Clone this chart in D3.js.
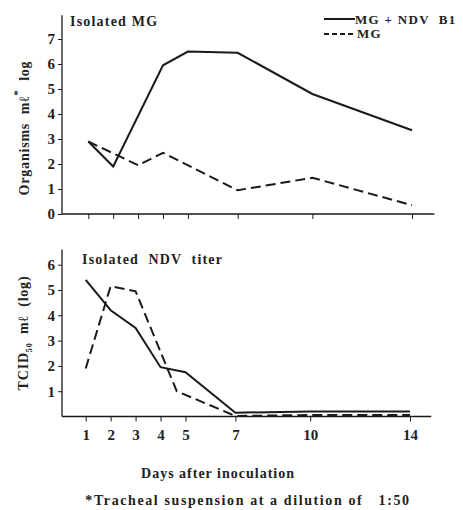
<!DOCTYPE html>
<html><head><meta charset="utf-8">
<script src="https://cdn.jsdelivr.net/npm/d3@7"></script>
<style>
body{margin:0;background:#fff;}
text{font-family:"Liberation Serif","DejaVu Serif",serif;font-weight:bold;fill:#222;}
</style></head><body>
<svg id="c" width="463" height="510"></svg>
<script>
const days = [1,2,3,4,5,7,10,14];
const topTicks = [0,1,2,3,4,5,6,7];
const botTicks = [1,2,3,4,5,6];
// Top panel: Isolated MG
const mgNdvDays = [1,2,4,5,7,10,14];
const mgNdvVals = [2.9,1.9,5.95,6.5,6.45,4.8,3.35];
const mgDays = [1,3,4,7,10,14];
const mgVals = [2.9,1.95,2.45,0.95,1.45,0.35];
// Bottom panel: Isolated NDV titer
const ndvSolidDays = [1,2,3,4,5,7,10,14];
const ndvSolidVals = [5.4,4.2,3.5,1.95,1.75,0.15,0.2,0.2];
const ndvDashDays = [1,2,3,4.65,7,10,14];
const ndvDashVals = [1.9,5.15,4.95,1.0,0.02,0.06,0.06];

const svg = d3.select("#c");
const ink = "#1a1a1a";

function panel(xr, yDom, yr, yTicks, showXLabels, axTopVal, xEnd){
  const x = d3.scaleLinear().domain([1,14]).range(xr);
  const y = d3.scaleLinear().domain(yDom).range(yr);
  const g = svg.append("g");
  const ya = g.append("g").attr("transform","translate(62,0)")
    .call(d3.axisLeft(y).tickValues(yTicks).tickSize(4).tickPadding(3).tickFormat(d3.format("d")));
  ya.select(".domain").remove();
  ya.selectAll("line").attr("stroke",ink);
  ya.selectAll("text").style("font-size","15px").attr("fill",ink);
  g.append("line").attr("x1",62).attr("x2",62).attr("y1",y(0)).attr("y2",y(axTopVal))
    .attr("stroke",ink).attr("stroke-width",1.3);
  const xa = g.append("g").attr("transform",`translate(0,${y(0)})`)
    .call(d3.axisBottom(x).tickValues(days).tickSize(5).tickPadding(8)
      .tickFormat(showXLabels ? d3.format("d") : ""));
  xa.select(".domain").remove();
  xa.selectAll("line").attr("stroke",ink);
  xa.selectAll("text").style("font-size","15px").attr("fill",ink);
  g.append("line").attr("x1",62).attr("x2",x(xEnd)).attr("y1",y(0)).attr("y2",y(0))
    .attr("stroke",ink).attr("stroke-width",1.3);
  return {x,y,g};
}

function draw(p, ds, vs, dashed){
  const line = d3.line().x(d=>p.x(d[0])).y(d=>p.y(d[1]));
  p.g.append("path").datum(d3.zip(ds,vs)).attr("d",line)
    .attr("fill","none").attr("stroke",ink).attr("stroke-width",2)
    .attr("stroke-dasharray",dashed?"10,5":null);
}

const P1 = panel([88.3,412],[0,7],[214,39],topTicks,false,7.95,14.9);
draw(P1, mgNdvDays, mgNdvVals, false);
draw(P1, mgDays, mgVals, true);

const P2 = panel([85.7,410],[0,6],[416.5,264.7],botTicks,true,6.6,14.85);
draw(P2, ndvSolidDays, ndvSolidVals, false);
draw(P2, ndvDashDays, ndvDashVals, true);

// titles
svg.append("text").attr("x",70).attr("y",26).style("font-size","14px").style("letter-spacing","1.2px").text("Isolated MG");
svg.append("text").attr("x",82).attr("y",264).style("font-size","14px").style("letter-spacing","1.2px").attr("xml:space","preserve").text("Isolated  NDV  titer");

// legend
svg.append("line").attr("x1",324).attr("x2",355).attr("y1",19).attr("y2",19).attr("stroke",ink).attr("stroke-width",2);
svg.append("text").attr("x",355).attr("y",24).style("font-size","13px").style("letter-spacing","1.3px").attr("xml:space","preserve").text("MG + NDV  B1");
svg.append("line").attr("x1",324).attr("x2",356).attr("y1",34).attr("y2",34).attr("stroke",ink).attr("stroke-width",2).attr("stroke-dasharray","5,3");
svg.append("text").attr("x",357).attr("y",38).style("font-size","13px").style("letter-spacing","1.3px").text("MG");

// y labels
const yl1 = svg.append("text").attr("transform","translate(29,128) rotate(-90)").attr("text-anchor","middle")
  .style("font-size","14px").style("letter-spacing","0.8px").attr("xml:space","preserve");
yl1.append("tspan").text("Organisms  mℓ");
yl1.append("tspan").attr("dy",-8).style("font-size","11px").text("*");
yl1.append("tspan").attr("dy",8).text("  log");

const yl2 = svg.append("text").attr("transform","translate(28,333) rotate(-90)").attr("text-anchor","middle")
  .style("font-size","14px").style("letter-spacing","0.8px").attr("xml:space","preserve");
yl2.append("tspan").text("TCID");
yl2.append("tspan").attr("dy",4).style("font-size","8px").text("50");
yl2.append("tspan").attr("dy",-4).text("  mℓ  (log)");

// x label & footnote
svg.append("text").attr("x",218).attr("y",478).attr("text-anchor","middle").style("font-size","14px").style("letter-spacing","1px").text("Days after inoculation");
svg.append("text").attr("x",248).attr("y",505).attr("text-anchor","middle").style("font-size","14px").style("letter-spacing","1.6px").attr("xml:space","preserve").text("*Tracheal suspension at a dilution of   1:50");
</script>
</body></html>
